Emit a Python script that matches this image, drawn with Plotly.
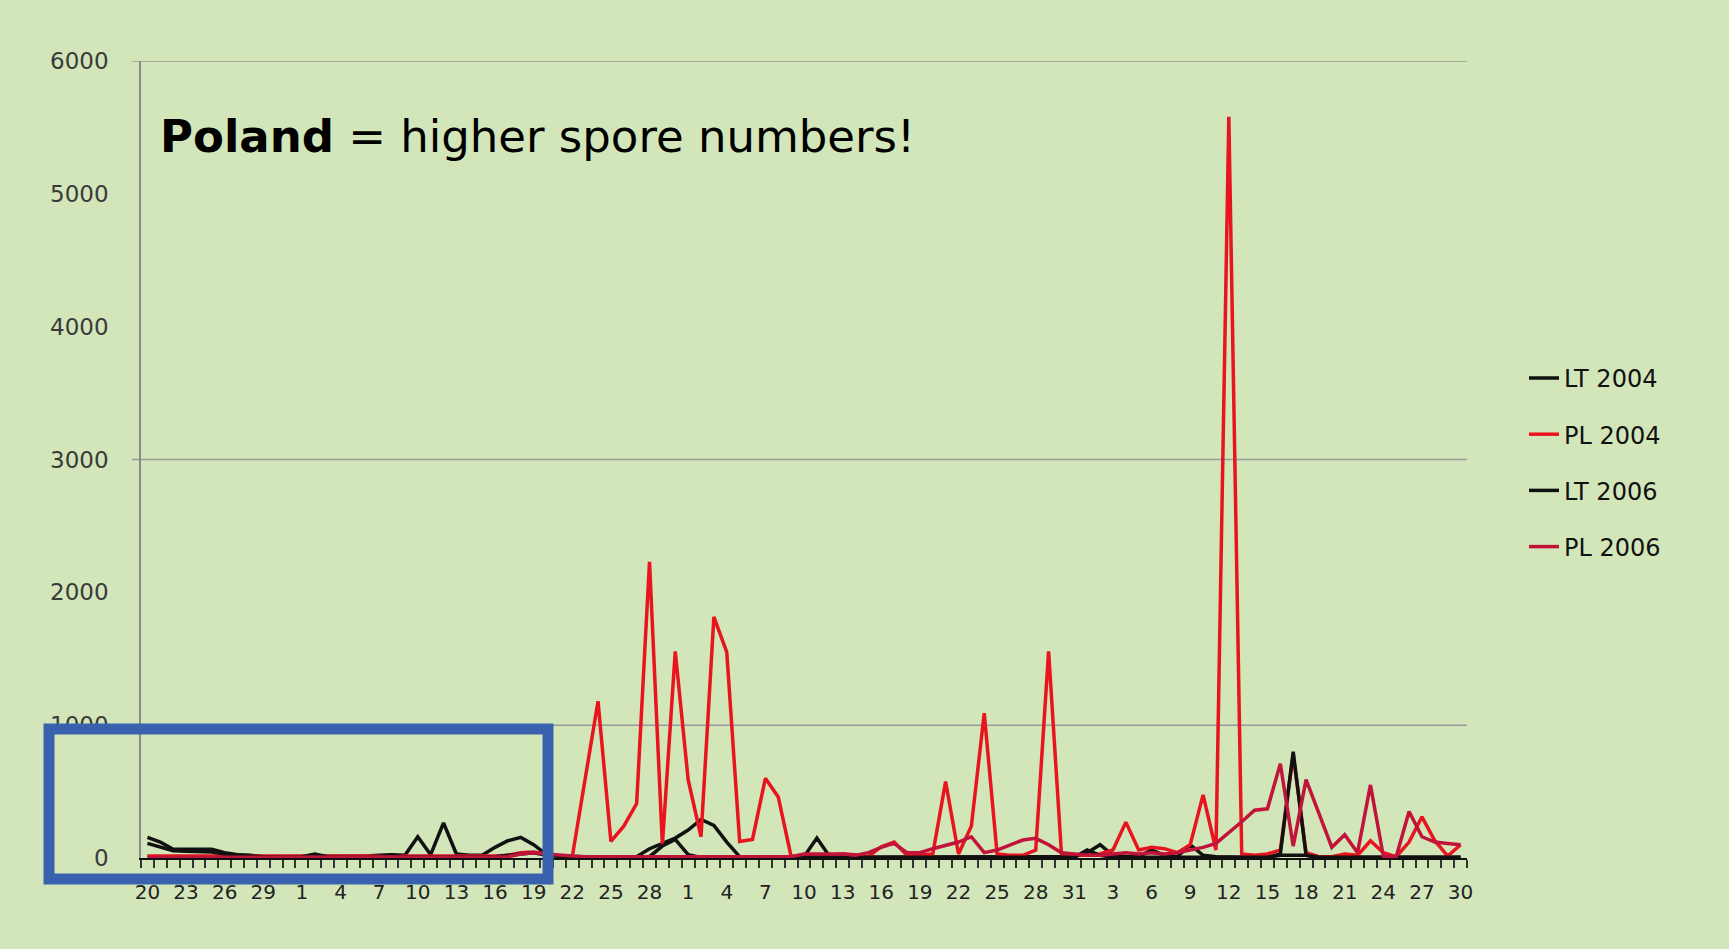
import pandas as pd
import plotly.graph_objects as go

# ---------------- data ----------------
dates = pd.date_range("2004-05-20", "2004-08-30", freq="D").strftime("%Y-%m-%d").tolist()

tick_labels = ["20", "23", "26", "29", "1", "4", "7", "10", "13", "16", "19", "22", "25", "28",
               "1", "4", "7", "10", "13", "16", "19", "22", "25", "28", "31",
               "3", "6", "9", "12", "15", "18", "21", "24", "27", "30"]

lt_2004 = [155, 120, 65, 65, 65, 65, 40, 25, 20, 10,
           10, 10, 10, 10, 10, 10, 10, 15, 20, 25,
           20, 160, 25, 265, 30, 20, 20, 80, 130, 155,
           100, 25, 15, 10, 10, 5, 5, 5, 10, 70,
           110, 150, 210, 290, 245, 120, 10, 5, 5, 5,
           5, 10, 150, 10, 5, 5, 5, 5, 5, 5,
           5, 5, 5, 5, 5, 10, 5, 5, 5, 5,
           5, 5, 10, 40, 100, 20, 10, 10, 60, 20,
           10, 100, 20, 10, 5, 5, 5, 5, 20, 20,
           20, 5, 5, 5, 5, 5, 5, 5, 5, 5,
           5, 5, 5]

pl_2004 = [15, 15, 15, 15, 10, 10, 10, 10, 10, 10,
           10, 10, 10, 10, 10, 10, 10, 10, 10, 10,
           10, 10, 10, 15, 15, 15, 15, 15, 20, 40,
           45, 30, 15, 10, 580, 1180, 125, 240, 410, 2230,
           100, 1555, 590, 160, 1815, 1550, 125, 140, 600, 460,
           10, 20, 20, 20, 30, 25, 10, 85, 120, 20,
           20, 30, 575, 30, 240, 1090, 30, 20, 20, 60,
           1555, 30, 20, 20, 30, 60, 270, 60, 80, 70,
           40, 100, 475, 60, 5580, 30, 20, 30, 60, 780,
           40, 10, 10, 30, 20, 130, 40, 10, 120, 310,
           130, 15, 100]

lt_2006 = [110, 80, 55, 50, 50, 45, 30, 20, 15, 10,
           5, 5, 10, 30, 10, 5, 5, 5, 10, 20,
           10, 10, 10, 10, 10, 5, 5, 10, 20, 30,
           40, 20, 10, 5, 5, 5, 5, 5, 5, 10,
           90, 140, 25, 5, 5, 5, 5, 5, 5, 5,
           5, 5, 5, 5, 5, 5, 5, 5, 5, 5,
           5, 5, 5, 5, 5, 5, 5, 5, 5, 5,
           5, 5, 5, 60, 20, 5, 5, 5, 5, 5,
           5, 5, 5, 5, 5, 5, 5, 5, 30, 800,
           20, 5, 5, 5, 5, 5, 5, 5, 5, 5,
           5, 5, 5]

pl_2006 = [5, 5, 5, 5, 5, 5, 5, 5, 5, 5,
           5, 5, 5, 5, 5, 5, 5, 5, 5, 5,
           5, 5, 5, 5, 5, 5, 5, 5, 10, 30,
           40, 30, 20, 15, 10, 10, 10, 10, 10, 10,
           10, 10, 10, 10, 10, 10, 10, 10, 10, 10,
           10, 30, 30, 35, 30, 20, 40, 80, 110, 40,
           40, 70, 95, 120, 160, 40, 60, 100, 135, 148,
           100, 40, 30, 20, 20, 30, 40, 30, 40, 30,
           40, 60, 80, 110, 190, 273, 360, 370, 710, 90,
           590, 340, 80, 175, 40, 550, 15, 10, 350, 160,
           120, 110, 100]

series_names = ["LT 2004", "PL 2004", "LT 2006", "PL 2006"]
series_values = [lt_2004, pl_2004, lt_2006, pl_2006]
series_colors = ["#111111", "#e8141e", "#111111", "#c2143a"]

y_ticks = [0, 1000, 2000, 3000, 4000, 5000, 6000]
grid_levels = [1000, 3000, 6000]

# ---------------- figure ----------------
BG = "#d2e6ba"
FONT = "DejaVu Sans"

fig = go.Figure()
for i, (name, vals, col) in enumerate(zip(series_names, series_values, series_colors)):
    fig.add_trace(go.Scatter(
        x=dates, y=vals, name=name, mode="lines",
        line=dict(color=col, width=3.5),
        legendgroup=f"g{i}",
    ))

ticktext = [tick_labels[i // 3] if i % 3 == 0 else "" for i in range(len(dates))]

shapes = []
for g in grid_levels:
    shapes.append(dict(type="line", xref="paper", yref="y", x0=-0.0066, x1=1.0, y0=g, y1=g,
                       line=dict(color="#9a9a9a", width=1.5), layer="below"))
# highlight box
shapes.append(dict(type="rect", xref="paper", yref="paper",
                   x0=(49 - 141) / 1326, x1=(548 - 141) / 1326,
                   y0=(858 - 879) / 797, y1=(858 - 729) / 797,
                   line=dict(color="#3862ae", width=11), layer="above"))

fig.update_layout(
    width=1729, height=949,
    margin=dict(l=141, r=262, t=61, b=91),
    paper_bgcolor=BG, plot_bgcolor=BG,
    font=dict(family=FONT, color="#222222"),
    showlegend=True,
    legend=dict(x=1.043, xanchor="left", y=0.630, yanchor="top",
                font=dict(size=24, color="#111111", family=FONT),
                bgcolor="rgba(0,0,0,0)", traceorder="grouped", tracegroupgap=22),
    xaxis=dict(type="category", range=[-0.5, len(dates) - 0.5],
               tickmode="array", tickvals=dates, ticktext=ticktext,
               tickson="boundaries", ticks="outside", ticklen=8, tickwidth=1.5,
               tickcolor="#333333", showgrid=False, zeroline=False,
               showline=True, linecolor="#111111", linewidth=2,
               tickfont=dict(size=20, color="#222222", family=FONT),
               ticklabelstandoff=15, tickangle=0),
    yaxis=dict(range=[0, 6000], tickmode="array", tickvals=y_ticks,
               ticks="", showgrid=False, zeroline=False,
               showline=True, linecolor="#8a8a8a", linewidth=1.5,
               tickfont=dict(size=23, color="#3a3a3a", family=FONT),
               ticklabelstandoff=26),
    shapes=shapes,
    annotations=[dict(xref="paper", yref="paper", x=(158 - 141) / 1326, y=(858 - 136) / 797,
                      xanchor="left", yanchor="middle", showarrow=False,
                      text="<b>Poland</b> = higher spore numbers!",
                      font=dict(size=45, color="#000000", family=FONT))],
)

fig.write_html(
    "out.html",
    config={"displayModeBar": False},
    post_script="document.body.style.margin='0';document.body.style.background='%s';" % BG,
)
